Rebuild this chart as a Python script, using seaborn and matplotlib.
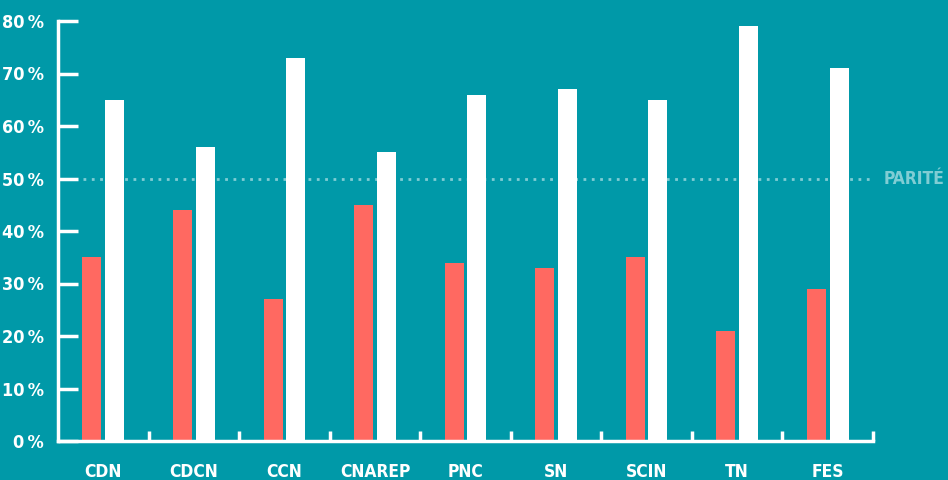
import numpy as np
import pandas as pd
import matplotlib
matplotlib.use("Agg")
import matplotlib.pyplot as plt
import seaborn as sns
from matplotlib.ticker import FixedLocator

categories = ["CDN", "CDCN", "CCN", "CNAREP", "PNC", "SN", "SCIN", "TN", "FES"]
femmes = [35, 44, 27, 45, 34, 33, 35, 21, 29]
hommes = [65, 56, 73, 55, 66, 67, 65, 79, 71]
yticks = [0, 10, 20, 30, 40, 50, 60, 70, 80]

BG = "#0099a8"
RED = "#ff6961"
WHITE = "#ffffff"
PARITY = "#80cdd4"

df = pd.DataFrame({
    "cat": categories * 2,
    "val": femmes + hommes,
    "grp": ["F"] * len(categories) + ["H"] * len(categories),
})

sns.set_style("white")
plt.rcParams["font.family"] = ["DejaVu Sans"]
plt.rcParams["font.stretch"] = "condensed"

fig = plt.figure(figsize=(9.48, 4.8), dpi=100)
fig.patch.set_facecolor(BG)
ax = fig.add_axes([58 / 948, 39 / 480, 815 / 948, 420 / 480])
ax.set_facecolor(BG)

sns.barplot(data=df, x="cat", y="val", hue="grp", order=categories,
            palette={"F": RED, "H": WHITE}, width=0.5, gap=0.16,
            saturation=1, linewidth=0, ax=ax, legend=False)

ax.set_xlim(-0.5, len(categories) - 0.5)
ax.set_ylim(0, 80)
ax.set_xlabel("")
ax.set_ylabel("")

for s in ["top", "right"]:
    ax.spines[s].set_visible(False)
for s in ["left", "bottom"]:
    ax.spines[s].set_color(WHITE)
    ax.spines[s].set_linewidth(2.5)

# y ticks point into the plot, labels sit left of the spine
ax.set_yticks(yticks)
ax.set_yticklabels([f"{v}\u2009%" for v in yticks])
ax.tick_params(axis="y", left=True, direction="in", length=14.5, width=2.5,
               color=WHITE, labelcolor=WHITE, labelsize=13, pad=10)
ax.tick_params(axis="x", bottom=True, length=0, labelcolor=WHITE,
               labelsize=12.5, pad=16)
# small upward ticks between categories
ax.xaxis.set_minor_locator(FixedLocator(np.arange(0.5, len(categories), 1)))
ax.tick_params(axis="x", which="minor", bottom=True, direction="in",
               length=7.5, width=2.5, color=WHITE)
for lab in ax.get_xticklabels() + ax.get_yticklabels():
    lab.set_fontweight("bold")

ax.axhline(50, color=PARITY, linestyle=(0, (1, 2)), linewidth=2, zorder=0.5,
           xmax=0.997)
ax.text(len(categories) - 0.5 + 0.12, 50, "PARITÉ", color=PARITY,
        fontsize=12.5, fontweight="bold", va="center", ha="left",
        clip_on=False)

fig.savefig("out.png", dpi=100, facecolor=BG)
